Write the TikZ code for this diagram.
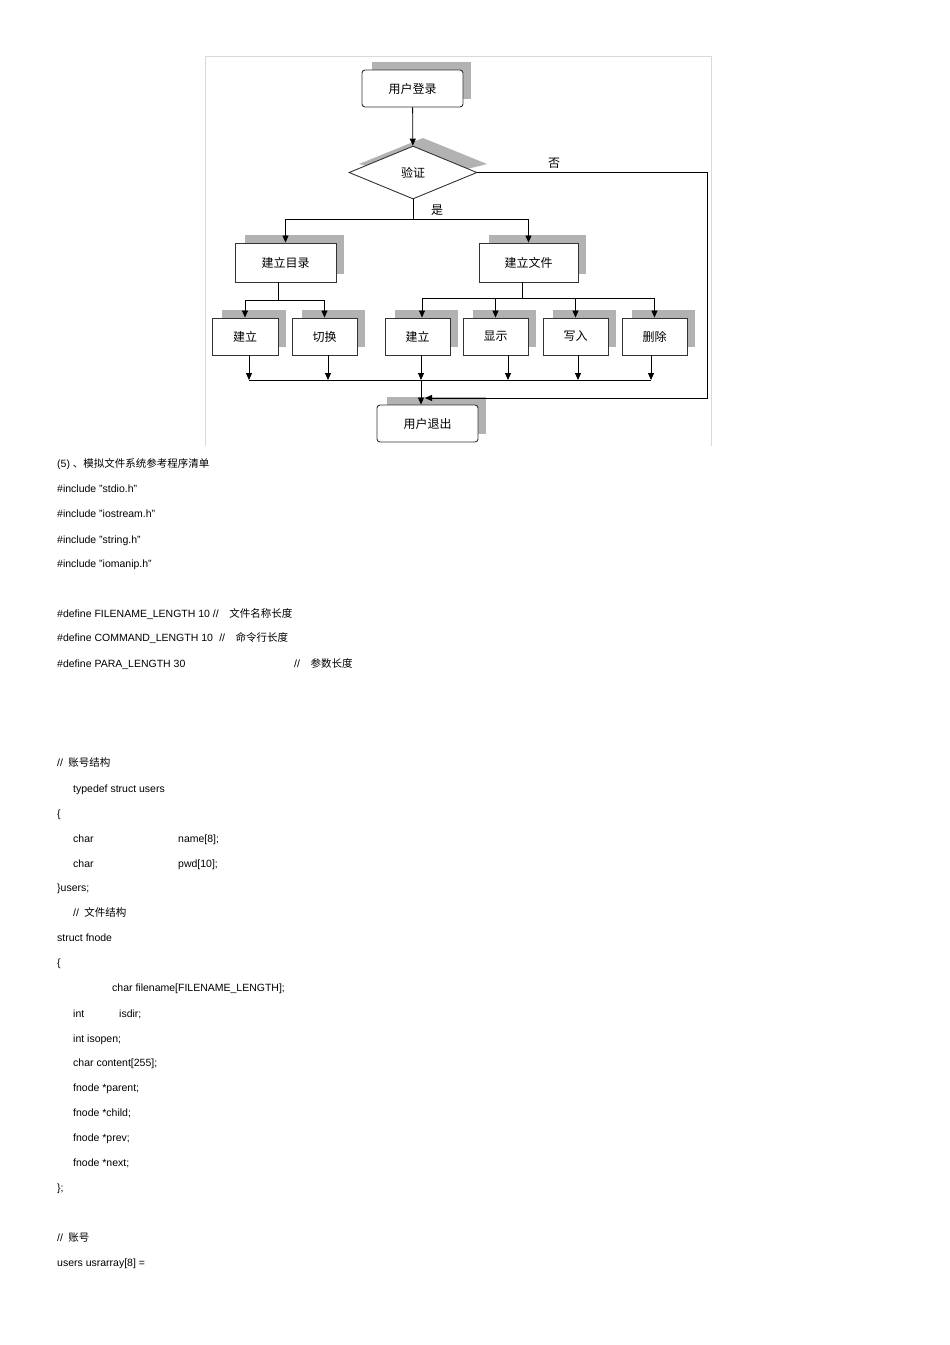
\documentclass[tikz,border=0pt]{standalone}
\usepackage{fontspec}
\setmainfont{Liberation Sans}
\newfontfamily\cjk{Noto Sans CJK SC}
\usetikzlibrary{arrows.meta,shapes.geometric}
\begin{document}
\begin{tikzpicture}[x=1pt,y=-1pt,
  box/.style={draw=black!80,line width=0.9pt,fill=white,inner sep=0pt,font=\cjk\fontsize{12}{14}\selectfont},
  shad/.style={fill=black!30,draw=none},
  arr/.style={-{Triangle[width=6pt,length=7pt]},line width=0.8pt},
  ln/.style={line width=0.8pt},
  txt/.style={anchor=base west,inner sep=0pt,font=\fontsize{10.5}{12}\selectfont}]
\useasboundingbox (0,0) rectangle (950,1345);
\draw[black!15,line width=0.8pt] (205,446) -- (205,56) -- (711,56) -- (711,446);
% shadows
\foreach \a/\b/\c/\d in {362/70/463/107, 235/243/336/282, 479/243/578/282, 212/318/278/355, 292/318/357/355, 385/318/450/355, 463/318/528/355, 543/318/608/355, 622/318/687/355, 377/405/478/442}
  \fill[shad] (\a+10,\b-8) rectangle (\c+8,\d-8);
\fill[shad] (359,164) -- (423,138) -- (487,164) -- (423,180) -- cycle;
% nodes
\node[box,rounded corners=3pt,minimum width=101pt,minimum height=37pt] (login) at (412.5,88.5) {用户登录};
\node[box,diamond,aspect=2.4,minimum width=128pt,minimum height=53pt] (ver) at (413,172.5) {验证};
\node[box,minimum width=101pt,minimum height=39pt] (mkdir) at (285.5,262.5) {建立目录};
\node[box,minimum width=99pt,minimum height=39pt] (mkfile) at (528.5,262.5) {建立文件};
\node[box,minimum width=66pt,minimum height=37pt] (d1) at (245,336.5) {建立};
\node[box,minimum width=65pt,minimum height=37pt] (d2) at (324.5,336.5) {切换};
\node[box,minimum width=65pt,minimum height=37pt] (f1) at (417.5,336.5) {建立};
\node[box,minimum width=65pt,minimum height=37pt] (f2) at (495.5,336.5) {显示};
\node[box,minimum width=65pt,minimum height=37pt] (f3) at (575.5,336.5) {写入};
\node[box,minimum width=65pt,minimum height=37pt] (f4) at (654.5,336.5) {删除};
\node[box,rounded corners=3pt,minimum width=101pt,minimum height=37pt] (logout) at (427.5,423.5) {用户退出};
\node[font=\cjk\fontsize{12}{14}\selectfont] (no) at (554,163) {否};
\node[font=\cjk\fontsize{12}{14}\selectfont] (yes) at (437,210) {是};
% connectors
\draw[arr] (login) -- (ver);
\coordinate (br) at (413,219);
\draw[ln] (ver.south) -- (br);
\draw[arr] (br) -| (mkdir.north);
\draw[arr] (br) -| (mkfile.north);
\coordinate (lb) at (278,300);
\draw[ln] (mkdir.south -| lb) -- (lb);
\draw[arr] (lb) -| (d1.north);
\draw[arr] (lb) -| (d2.north);
\coordinate (rb) at (522,298);
\draw[ln] (mkfile.south -| rb) -- (rb);
\draw[arr] (rb) -| (f1.north west -| 422,0);
\draw[arr] (rb) -| (f2.north);
\draw[arr] (rb) -| (f3.north);
\draw[arr] (rb) -| (f4.north);
\coordinate (m) at (421,380);
\foreach \n/\x in {d1/249,d2/328,f1/421,f2/508,f3/578,f4/651}
  \draw[arr] (\n.south -| \x,0) -- (\x,380);
\draw[ln] (249,380) -- (651,380);
\draw[arr] (m) -- (logout.north -| m);
\coordinate (nr) at (707,398);
\draw[arr] (ver.east) -| (nr) -- (425,398);
% text
\node[txt] (l1) at (57,467) {(5) {\cjk 、模拟文件系统参考程序清单}};
\node[txt] (l2) at (57,492) {\#include "stdio.h"};
\node[txt] (l3) at (57,517) {\#include "iostream.h"};
\node[txt] (l4) at (57,543) {\#include "string.h"};
\node[txt] (l5) at (57,567) {\#include "iomanip.h"};
\node[txt] (l6) at (57,617) {\#define FILENAME\_LENGTH 10 //\hspace{1em}{\cjk 文件名称长度}};
\node[txt] (l7) at (57,641) {\#define COMMAND\_LENGTH 10\hspace{0.6em}//\hspace{1em}{\cjk 命令行长度}};
\node[txt] (l8) at (57,667) {\#define PARA\_LENGTH 30};
\node[txt] (l8b) at (294,667) {//\hspace{1em}{\cjk 参数长度}};
\node[txt] (l9) at (57,766) {//\hspace{0.5em}{\cjk 账号结构}};
\node[txt] (l10) at (73,792) {typedef struct users};
\node[txt] (l11) at (57,817) {\{};
\node[txt] (l12) at (73,842) {char};
\node[txt] (l12b) at (178,842) {name[8];};
\node[txt] (l13) at (73,867) {char};
\node[txt] (l13b) at (178,867) {pwd[10];};
\node[txt] (l14) at (57,891) {\}users;};
\node[txt] (l15) at (73,916) {//\hspace{0.5em}{\cjk 文件结构}};
\node[txt] (l16) at (57,941) {struct fnode};
\node[txt] (l17) at (57,966) {\{};
\node[txt] (l18) at (112,991) {char filename[FILENAME\_LENGTH];};
\node[txt] (l19) at (73,1017) {int};
\node[txt] (l19b) at (119,1017) {isdir;};
\node[txt] (l20) at (73,1042) {int isopen;};
\node[txt] (l21) at (73,1066) {char content[255];};
\node[txt] (l22) at (73,1091) {fnode *parent;};
\node[txt] (l23) at (73,1116) {fnode *child;};
\node[txt] (l24) at (73,1141) {fnode *prev;};
\node[txt] (l25) at (73,1166) {fnode *next;};
\node[txt] (l26) at (57,1191) {\};};
\node[txt] (l27) at (57,1241) {//\hspace{0.5em}{\cjk 账号}};
\node[txt] (l28) at (57,1266) {users usrarray[8] =};
\end{tikzpicture}
\end{document}
